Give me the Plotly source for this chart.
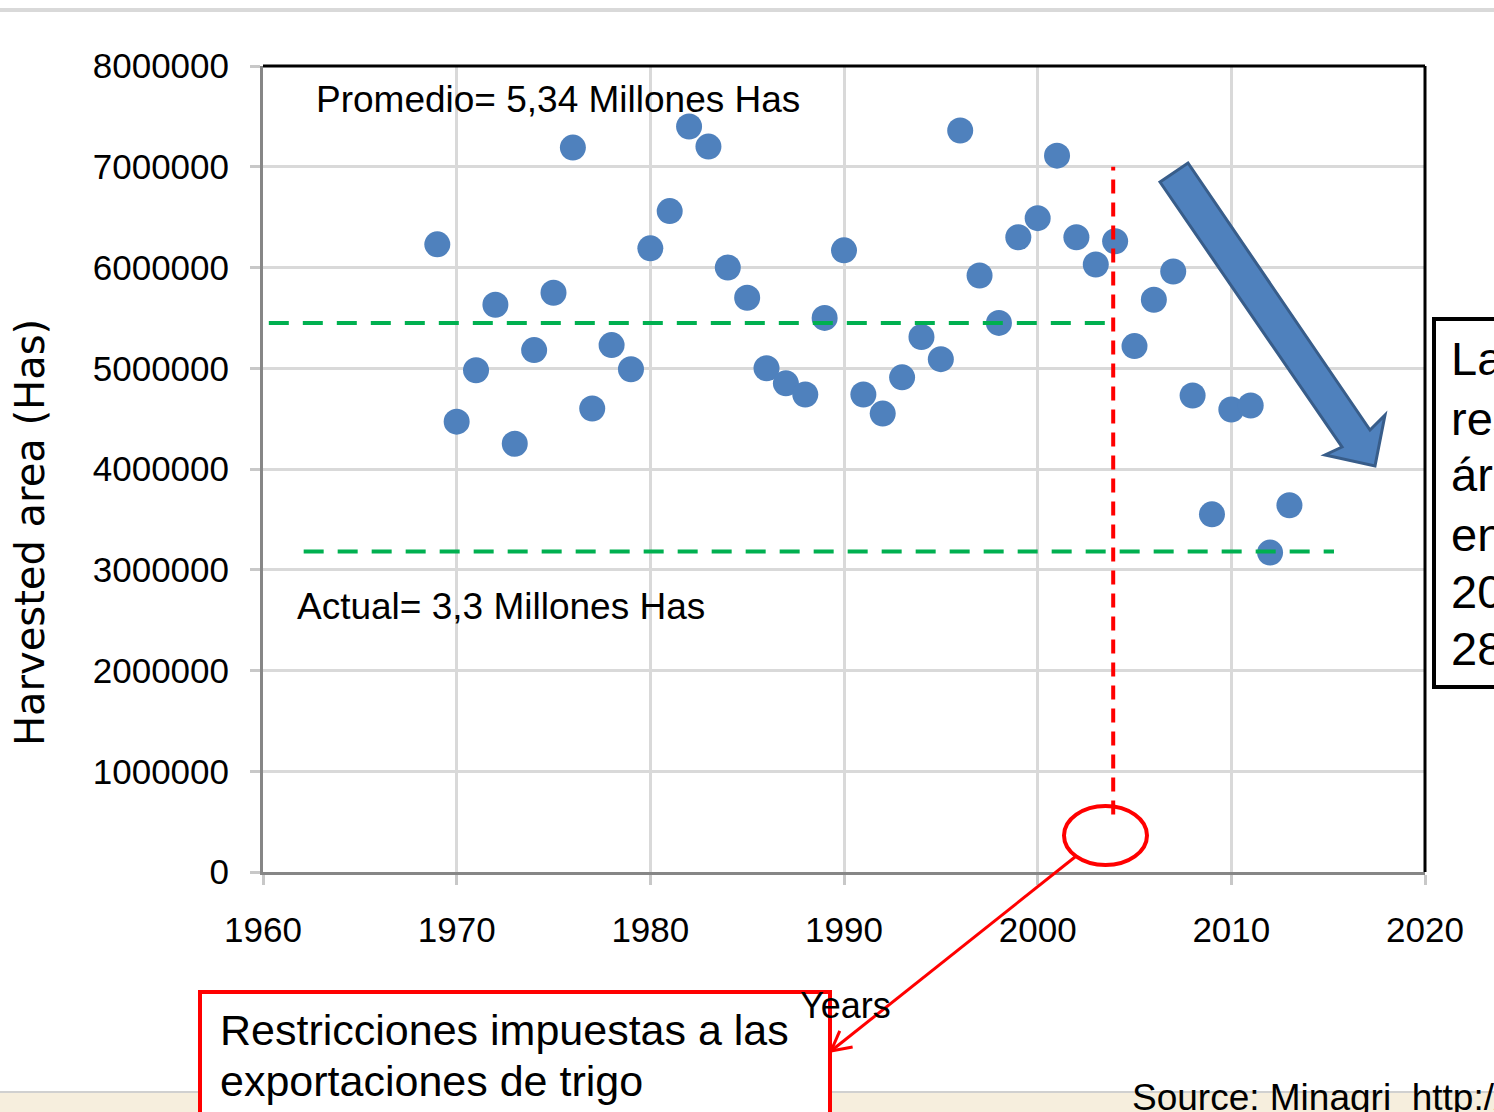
import plotly.graph_objects as go
import math

# ---------------- data ----------------
years = list(range(1969, 2014))
harvested_area = [
    6230000, 4470000, 4980000, 5630000, 4250000, 5180000, 5750000, 7190000,
    4600000, 5230000, 4990000, 6190000, 6560000, 7400000, 7200000, 6000000,
    5700000, 5000000, 4850000, 4740000, 5500000, 6170000, 4740000, 4550000,
    4910000, 5310000, 5090000, 7360000, 5920000, 5450000, 6300000, 6490000,
    7110000, 6300000, 6030000, 6260000, 5220000, 5680000, 5960000, 4730000,
    3550000, 4590000, 4630000, 3170000, 3640000,
]
avg_level = 5450000
avg_x = [1960.3, 2003.9]
current_level = 3180000
current_x = [1962.1, 2015.3]
policy_year = 2003.9
policy_y = [570000, 7000000]

x_ticks = [1960, 1970, 1980, 1990, 2000, 2010, 2020]
y_ticks = [0, 1000000, 2000000, 3000000, 4000000, 5000000, 6000000, 7000000, 8000000]

# ---------------- layout helpers (pixel -> paper) ----------------
W, H = 1494, 1112
L, R, T, B = 263, 1425, 66, 872


def px(x):
    return (x - L) / (R - L)


def py(y):
    return (B - y) / (B - T)


fig = go.Figure()
fig.add_trace(go.Scatter(
    x=years, y=harvested_area, mode="markers",
    marker=dict(size=26, color="#4F81BD", line=dict(width=0)),
    showlegend=False, cliponaxis=False,
))

shapes = []
# gray line at top of slide
shapes.append(dict(type="rect", xref="paper", yref="paper", x0=px(0), x1=px(W), y0=py(8), y1=py(12),
                   fillcolor="#D9D9D9", line=dict(width=0), layer="below"))
# beige band at bottom
shapes.append(dict(type="rect", xref="paper", yref="paper", x0=px(0), x1=px(W), y0=py(1092), y1=py(1115),
                   fillcolor="#F6EEDD", line=dict(width=0), layer="below"))
shapes.append(dict(type="line", xref="paper", yref="paper", x0=px(0), x1=px(W), y0=py(1092), y1=py(1092),
                   line=dict(color="#D0D0D0", width=2), layer="below"))
# plot frame top and right (black)
shapes.append(dict(type="line", xref="paper", yref="paper", x0=0, x1=1, y0=1, y1=1,
                   line=dict(color="black", width=3)))
shapes.append(dict(type="line", xref="paper", yref="paper", x0=1, x1=1, y0=0, y1=1,
                   line=dict(color="black", width=3)))
# green dashed lines
shapes.append(dict(type="line", xref="x", yref="y", x0=avg_x[0], x1=avg_x[1], y0=avg_level, y1=avg_level,
                   line=dict(color="#00B050", width=4, dash="20px,14px")))
shapes.append(dict(type="line", xref="x", yref="y", x0=current_x[0], x1=current_x[1], y0=current_level, y1=current_level,
                   line=dict(color="#00B050", width=4, dash="20px,14px")))
# red dashed vertical line
shapes.append(dict(type="line", xref="x", yref="y", x0=policy_year, x1=policy_year, y0=policy_y[0], y1=policy_y[1],
                   line=dict(color="#FF0000", width=4, dash="14px,9px")))
# red ellipse
shapes.append(dict(type="circle", xref="paper", yref="paper", x0=px(1064), x1=px(1147), y0=py(865), y1=py(806),
                   line=dict(color="#FF0000", width=4)))
# red arrow line + open head
tail = (1075, 857)
tip = (831, 1051)
shapes.append(dict(type="line", xref="paper", yref="paper", x0=px(tail[0]), y0=py(tail[1]), x1=px(tip[0]), y1=py(tip[1]),
                   line=dict(color="#FF0000", width=3)))
dx, dy = tail[0] - tip[0], tail[1] - tip[1]
n = math.hypot(dx, dy)
ux, uy = dx / n, dy / n
for ang in (math.radians(28), math.radians(-28)):
    vx = ux * math.cos(ang) - uy * math.sin(ang)
    vy = ux * math.sin(ang) + uy * math.cos(ang)
    shapes.append(dict(type="line", xref="paper", yref="paper", x0=px(tip[0]), y0=py(tip[1]),
                       x1=px(tip[0] + 22 * vx), y1=py(tip[1] + 22 * vy),
                       line=dict(color="#FF0000", width=3)))
# red box (bottom)
shapes.append(dict(type="rect", xref="paper", yref="paper", x0=px(200), x1=px(830), y0=py(1125), y1=py(992),
                   fillcolor="white", line=dict(color="#FF0000", width=4)))
# black box (right)
shapes.append(dict(type="rect", xref="paper", yref="paper", x0=px(1434), x1=px(1560), y0=py(687), y1=py(319),
                   fillcolor="white", line=dict(color="black", width=4)))
# blue arrow
arrow_pts = [(1160, 182), (1188, 163), (1370, 430), (1385, 415), (1375, 466), (1325, 455), (1342, 447)]
path = "M " + " L ".join(f"{px(a):.5f},{py(b):.5f}" for a, b in arrow_pts) + " Z"
shapes.append(dict(type="path", xref="paper", yref="paper", path=path,
                   fillcolor="#4F81BD", line=dict(color="#385D8A", width=3)))

ARIAL = "Liberation Sans, Arial, sans-serif"

annotations = []


def txt(text, x, y, size, family=ARIAL, xanchor="left", angle=0):
    annotations.append(dict(text=text, xref="paper", yref="paper", x=px(x), y=py(y), xanchor=xanchor,
                            yanchor="middle", showarrow=False, textangle=angle,
                            font=dict(family=family, size=size, color="black")))


txt("Promedio= 5,34 Millones Has", 314, 100, 37)
txt("Actual= 3,3 Millones Has", 295, 606, 37)
txt("Restricciones impuestas a las", 218, 1030, 43)
txt("exportaciones de trigo", 218, 1081, 43)
for t, yy in zip(["La reducción del", "respecto al promedio", "área cosechada", "en el período",
                  "2004-2013 fue de", "28%"], [358, 418, 475, 534, 591, 648]):
    txt(t, 1449, yy, 47)
txt("Source: Minagri  http://minagri.gob.pe", 1130, 1097, 37)
txt("Years", 845, 1005, 36, xanchor="center")
txt("Harvested area (Has)", 30, 533, 40, family="DejaVu Sans, sans-serif", xanchor="center", angle=-90)

fig.update_layout(
    width=W, height=H, autosize=False,
    margin=dict(l=L, r=W - R, t=T, b=H - B, pad=0),
    paper_bgcolor="white", plot_bgcolor="white",
    shapes=shapes, annotations=annotations,
    xaxis=dict(range=[1960, 2020], tickvals=x_ticks, ticktext=[str(v) for v in x_ticks],
               showgrid=True, gridcolor="#D9D9D9", gridwidth=3,
               showline=True, linecolor="#868686", linewidth=3,
               ticks="outside", ticklen=10, tickwidth=3, tickcolor="#C8C8C8",
               ticklabelstandoff=15, zeroline=False,
               tickfont=dict(family=ARIAL, size=35, color="black")),
    yaxis=dict(range=[0, 8000000], tickvals=y_ticks, ticktext=[str(v) for v in y_ticks],
               showgrid=True, gridcolor="#D9D9D9", gridwidth=3,
               showline=True, linecolor="#868686", linewidth=3,
               ticks="outside", ticklen=10, tickwidth=3, tickcolor="#C8C8C8",
               ticklabelstandoff=14, zeroline=False,
               tickfont=dict(family=ARIAL, size=35, color="black")),
)

fig.write_html("out.html", config={"displayModeBar": False},
               post_script="document.body.style.margin='0';document.body.style.overflow='hidden';")
